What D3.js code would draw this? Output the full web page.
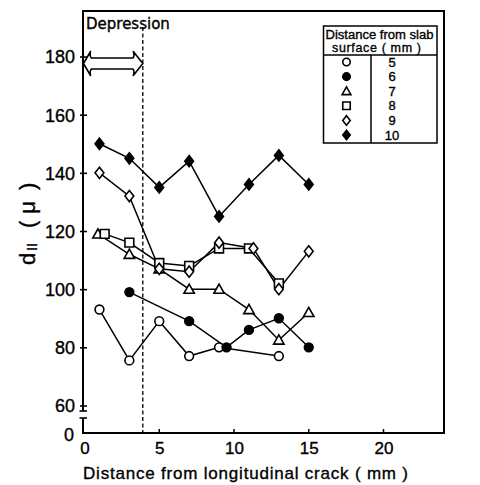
<!DOCTYPE html>
<html><head><meta charset="utf-8">
<script src="https://cdn.jsdelivr.net/npm/d3@7"></script>
<style>
body{margin:0;background:#fff}
text{fill:#000;stroke:#000;stroke-width:0.35px}
</style>
</head><body><svg id="chart" width="480" height="485"></svg>
<script>
// Distance from slab surface (mm) and the marker used for each depth
const depths = ["5", "6", "7", "8", "9", "10"];
const markerKinds = ["openCircle", "filledCircle", "openTriangle", "openSquare", "openDiamond", "filledDiamond"];

// Spacing d_II (micron) against distance from the longitudinal crack (mm)
const x5 = [1, 3, 5, 7, 9, 13];
const y5 = [93, 75.5, 89, 77, 80, 77];
const x6 = [3, 7, 9.5, 11, 13, 15];
const y6 = [99, 89, 80, 86, 90, 80];
const x7 = [0.9, 3, 5, 7, 9, 11, 13, 15];
const y7 = [119, 112, 107, 100, 100, 93, 82.5, 92];
const x8 = [1.35, 3, 5, 7, 9, 11, 13];
const y8 = [119, 116, 109, 108, 114, 114, 102];
const x9 = [1, 3, 5, 7, 9, 11.3, 13, 15];
const y9 = [140, 132, 107, 106, 116, 114, 100, 113];
const x10 = [1, 3, 5, 7, 9, 11, 13, 15];
const y10 = [150, 145, 135, 144, 125, 136, 146, 136];

const xTicks = [0, 5, 10, 15, 20];
const xMinorTicks = [5, 10, 15, 20];
const yTicks = [60, 80, 100, 120, 140, 160, 180];
const depressionEdge = 3.9;

const seriesX = [x5, x6, x7, x8, x9, x10];
const seriesY = [y5, y6, y7, y8, y9, y10];
const series = depths.map((d, i) => ({
  depth: d,
  kind: markerKinds[i],
  points: seriesX[i].map((xv, j) => ({ x: xv, y: seriesY[i][j] }))
}));

const svg = d3.select("#chart");
const frame = { left: 83, right: 444, top: 11, bottom: 433 };

const x = d3.scaleLinear().domain([0, 20]).range([84.5, 383.5]);
const y = d3.scaleLinear().domain([60, 180]).range([405.5, 56.5]);

const numFont = "'Liberation Sans', Arial, sans-serif";

// Marker shapes
function markerPath(kind, s) {
  const k = s || 1;
  switch (kind) {
    case "openTriangle": {
      const w = 5.2 * k, h = 4.6 * k;
      return `M0,${-h - 0.5}L${w},${h - 0.5}L${-w},${h - 0.5}Z`;
    }
    case "openSquare": {
      const a = 4.4 * k;
      return `M${-a},${-a}H${a}V${a}H${-a}Z`;
    }
    case "openDiamond":
    case "filledDiamond": {
      const w = 4.4 * k, h = 5.6 * k;
      return `M0,${-h}L${w},0L0,${h}L${-w},0Z`;
    }
    default: {
      const r = 4.4 * k;
      return `M${r},0A${r},${r} 0 1,1 ${-r},0A${r},${r} 0 1,1 ${r},0Z`;
    }
  }
}
const isFilled = k => k === "filledCircle" || k === "filledDiamond";

// Depression boundary (dashed)
svg.append("line")
  .attr("x1", x(depressionEdge)).attr("x2", x(depressionEdge))
  .attr("y1", 27).attr("y2", frame.bottom)
  .attr("stroke", "#000").attr("stroke-width", 1.3)
  .attr("stroke-dasharray", "4,2.5");

// Frame: top, right, bottom and broken left axis
const axisG = svg.append("g").attr("stroke", "#000").attr("fill", "none");
axisG.append("path")
  .attr("d", `M${frame.left},411V${frame.top}H${frame.right}V${frame.bottom}H${frame.left}V418`)
  .attr("stroke-width", 2);
axisG.append("line").attr("x1", 79.5).attr("x2", 87).attr("y1", 411).attr("y2", 411).attr("stroke-width", 1.6);
axisG.append("line").attr("x1", 79.5).attr("x2", 87).attr("y1", 418).attr("y2", 418).attr("stroke-width", 1.6);

// Y axis
const yAxis = svg.append("g")
  .attr("transform", `translate(${frame.left},0)`)
  .call(d3.axisLeft(y).tickValues(yTicks).tickSize(3).tickPadding(5));
yAxis.select(".domain").remove();
yAxis.selectAll(".tick line").attr("x1", -3).attr("x2", 4).attr("stroke", "#000").attr("stroke-width", 1.6);
yAxis.selectAll(".tick text")
  .attr("font-family", numFont).attr("font-size", 18).attr("fill", "#000")
  .attr("dy", "0.36em");
svg.append("text")
  .attr("x", 74).attr("y", 441)
  .attr("text-anchor", "end")
  .attr("font-family", numFont).attr("font-size", 18)
  .text("0");

// X axis
const xAxis = svg.append("g")
  .attr("transform", `translate(0,${frame.bottom})`)
  .call(d3.axisBottom(x).tickValues(xTicks).tickSize(0).tickPadding(9));
xAxis.select(".domain").remove();
xAxis.selectAll(".tick text")
  .attr("font-family", numFont).attr("font-size", 17).attr("fill", "#000");
svg.append("g").selectAll("line")
  .data(xMinorTicks).join("line")
  .attr("x1", d => x(d)).attr("x2", d => x(d))
  .attr("y1", frame.bottom).attr("y2", frame.bottom - 4)
  .attr("stroke", "#000").attr("stroke-width", 1.5);

// Axis titles
svg.append("text")
  .attr("x", 83).attr("y", 479)
  .attr("font-family", numFont).attr("font-size", 17)
  .attr("textLength", 325).attr("lengthAdjust", "spacing")
  .text("Distance  from  longitudinal  crack ( mm )");

const yTitle = svg.append("text")
  .attr("transform", "translate(35,265) rotate(-90)")
  .attr("font-family", numFont).attr("font-size", 22);
yTitle.append("tspan").text("d");
yTitle.append("tspan").attr("font-size", 14).attr("dy", 2).attr("dx", 2).text("II");
yTitle.append("tspan").attr("dy", -2).attr("dx", 15).text("(");
yTitle.append("tspan").attr("dx", 7).text("μ");
yTitle.append("tspan").attr("dx", 11).text(")");

// Depression label and double arrow
svg.append("text")
  .attr("x", 86).attr("y", 28.5)
  .attr("font-family", "'DejaVu Sans', sans-serif").attr("font-size", 15)
  .text("Depression");
const ay = 63.5, aL = frame.left + 0.5, aR = x(depressionEdge);
svg.append("path")
  .attr("d", `M${aL},${ay}L${aL + 7},${ay - 12}Q${aL + 6},${ay - 7} ${aL + 8},${ay - 5.5}H${aR - 10}Q${aR - 8},${ay - 7} ${aR - 9.5},${ay - 12}L${aR},${ay}L${aR - 9.5},${ay + 12}Q${aR - 8},${ay + 7} ${aR - 10},${ay + 5.5}H${aL + 8}Q${aL + 6},${ay + 7} ${aL + 7},${ay + 12}Z`)
  .attr("fill", "#fff").attr("stroke", "#000").attr("stroke-width", 1.6)
  .attr("stroke-linejoin", "round");

// Series lines and markers
const line = d3.line().x(d => x(d.x)).y(d => y(d.y));
const plot = svg.append("g");
plot.selectAll("path.series")
  .data(series).join("path")
  .attr("class", "series")
  .attr("d", d => line(d.points))
  .attr("fill", "none").attr("stroke", "#000").attr("stroke-width", 1.5);
series.forEach(s => {
  plot.selectAll(null)
    .data(s.points).join("path")
    .attr("transform", d => `translate(${x(d.x)},${y(d.y)})`)
    .attr("d", markerPath(s.kind))
    .attr("fill", isFilled(s.kind) ? "#000" : "#fff")
    .attr("stroke", "#000").attr("stroke-width", 1.6);
});

// Legend table
const lg = svg.append("g");
const lgBox = { left: 323.5, right: 437, top: 26, bottom: 143, head: 55, split: 371 };
lg.append("rect")
  .attr("x", lgBox.left).attr("y", lgBox.top)
  .attr("width", lgBox.right - lgBox.left).attr("height", lgBox.bottom - lgBox.top)
  .attr("fill", "#fff").attr("stroke", "#000").attr("stroke-width", 1.5);
lg.append("line").attr("x1", lgBox.left).attr("x2", lgBox.right)
  .attr("y1", lgBox.head).attr("y2", lgBox.head).attr("stroke", "#000").attr("stroke-width", 1.5);
lg.append("line").attr("x1", lgBox.split).attr("x2", lgBox.split)
  .attr("y1", lgBox.head).attr("y2", lgBox.bottom).attr("stroke", "#000").attr("stroke-width", 1.5);
lg.append("text").attr("x", 325.5).attr("y", 39)
  .attr("font-family", numFont).attr("font-size", 12.5)
  .attr("textLength", 108).attr("lengthAdjust", "spacingAndGlyphs")
  .text("Distance from slab");
lg.append("text").attr("x", 332).attr("y", 52)
  .attr("font-family", numFont).attr("font-size", 12.5)
  .attr("textLength", 89).attr("lengthAdjust", "spacing")
  .text("surface ( mm )");

const rowY = d3.scalePoint().domain(depths).range([62, 135]);
const rows = lg.selectAll("g.row").data(series).join("g").attr("class", "row");
rows.append("path")
  .attr("transform", d => `translate(346.5,${rowY(d.depth)})`)
  .attr("d", d => markerPath(d.kind, 0.85))
  .attr("fill", d => isFilled(d.kind) ? "#000" : "#fff")
  .attr("stroke", "#000").attr("stroke-width", 1.6);
rows.append("text")
  .attr("x", 392).attr("y", d => rowY(d.depth) + 4.5)
  .attr("text-anchor", "middle")
  .attr("font-family", numFont).attr("font-size", 13)
  .text(d => d.depth);
</script>
</body></html>
